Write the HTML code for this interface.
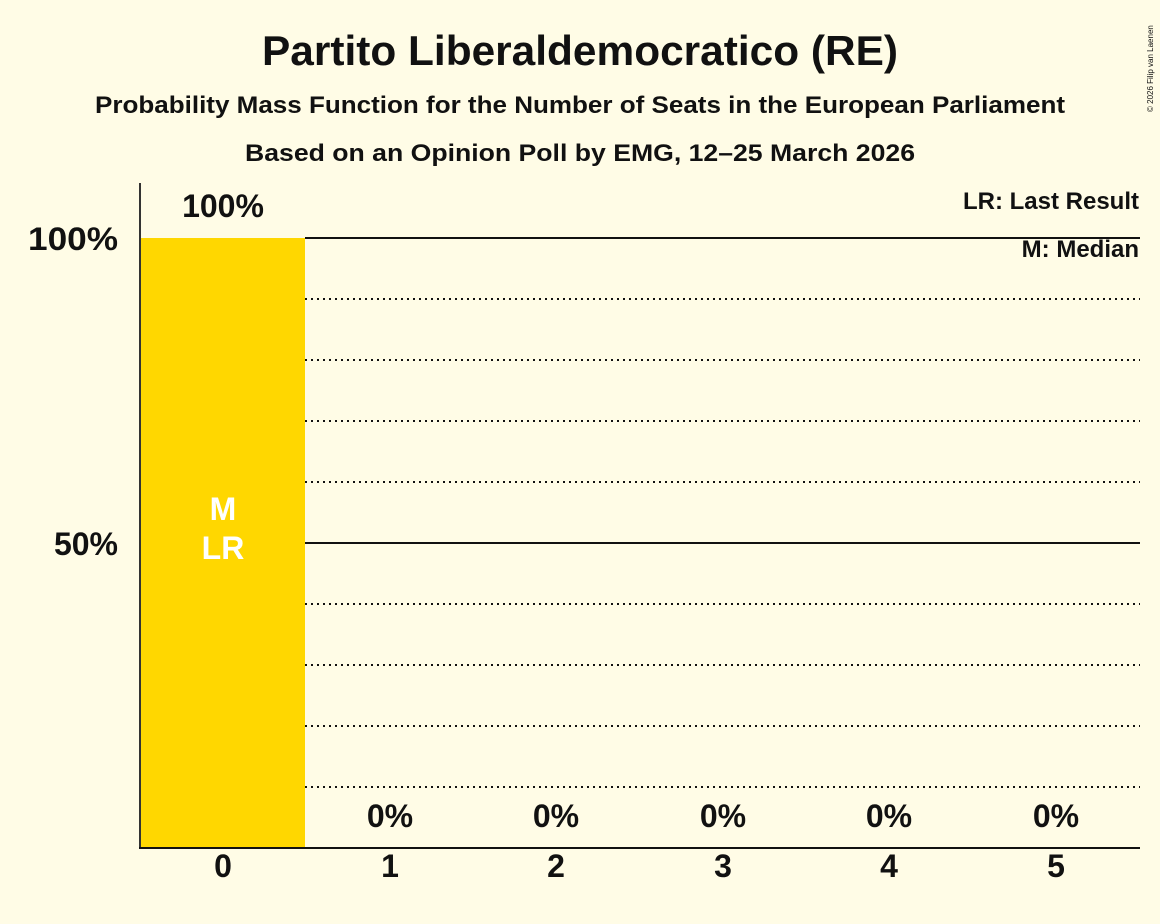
<!DOCTYPE html>
<html><head><style>body{margin:0;background:#FFFCE6}svg{display:block}text{font-family:"Liberation Sans",sans-serif;font-weight:bold;fill:#111}</style></head>
<body>
<svg width="1160" height="924" viewBox="0 0 1160 924">
<rect width="1160" height="924" fill="#FFFCE6"/>
<text x="580" y="65" text-anchor="middle" font-size="42" textLength="636" lengthAdjust="spacingAndGlyphs">Partito Liberaldemocratico (RE)</text>
<text x="580" y="113" text-anchor="middle" font-size="24" textLength="970" lengthAdjust="spacingAndGlyphs">Probability Mass Function for the Number of Seats in the European Parliament</text>
<text x="580" y="161" text-anchor="middle" font-size="24" textLength="670" lengthAdjust="spacingAndGlyphs">Based on an Opinion Poll by EMG, 12–25 March 2026</text>
<text x="1153" y="112" font-size="8" transform="rotate(-90 1153 112)" style="font-weight:normal">© 2026 Filip van Laenen</text>
<rect x="141" y="238" width="164" height="610" fill="#FFD700"/>
<g stroke="#111" stroke-width="2">
<line x1="305" y1="238" x2="1140" y2="238"/>
<line x1="305" y1="543" x2="1140" y2="543"/>
</g>
<g stroke="#111" stroke-width="2" stroke-dasharray="2,4">
<line x1="305" y1="299" x2="1140" y2="299"/>
<line x1="305" y1="360" x2="1140" y2="360"/>
<line x1="305" y1="421" x2="1140" y2="421"/>
<line x1="305" y1="482" x2="1140" y2="482"/>
<line x1="305" y1="604" x2="1140" y2="604"/>
<line x1="305" y1="665" x2="1140" y2="665"/>
<line x1="305" y1="726" x2="1140" y2="726"/>
<line x1="305" y1="787" x2="1140" y2="787"/>
</g>
<line x1="140" y1="183" x2="140" y2="849" stroke="#333" stroke-width="2"/>
<line x1="139" y1="848" x2="1140" y2="848" stroke="#111" stroke-width="2"/>
<text x="118" y="250" text-anchor="end" font-size="32" textLength="90" lengthAdjust="spacingAndGlyphs">100%</text>
<text x="118" y="555" text-anchor="end" font-size="32">50%</text>
<text x="223" y="217" text-anchor="middle" font-size="32">100%</text>
<text x="223" y="520" text-anchor="middle" font-size="32" style="fill:#fff">M</text>
<text x="223" y="559" text-anchor="middle" font-size="32" style="fill:#fff">LR</text>
<g font-size="32" text-anchor="middle">
<text x="390" y="827">0%</text><text x="556" y="827">0%</text><text x="723" y="827">0%</text><text x="889" y="827">0%</text><text x="1056" y="827">0%</text>
<text x="223" y="877">0</text><text x="390" y="877">1</text><text x="556" y="877">2</text><text x="723" y="877">3</text><text x="889" y="877">4</text><text x="1056" y="877">5</text>
</g>
<text x="1139" y="209" text-anchor="end" font-size="24">LR: Last Result</text>
<text x="1139" y="257" text-anchor="end" font-size="24">M: Median</text>
</svg>
</body></html>
